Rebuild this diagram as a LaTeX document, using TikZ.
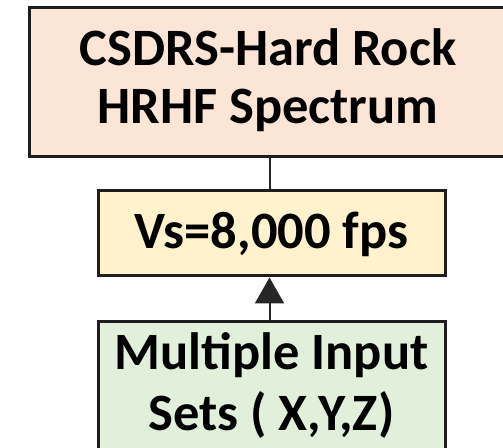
\documentclass[tikz,border=0pt]{standalone}
\usepackage{fontspec}
\setmainfont{Carlito}
\usetikzlibrary{arrows.meta}
\definecolor{peach}{HTML}{FBE5D6}
\definecolor{cream}{HTML}{FFF2CC}
\definecolor{mint}{HTML}{E2EFDA}
\definecolor{edge}{HTML}{1E1E1E}
\definecolor{wire}{HTML}{262626}
\tikzset{
  box/.style={draw=edge, line width=3pt, rectangle, inner sep=0pt},
  wirestyle/.style={draw=wire, line width=2pt},
  txt/.style={font=\fontsize{52.5}{60}\selectfont\bfseries, inner sep=0pt, anchor=base}
}
\begin{document}
\begin{tikzpicture}[x=1pt,y=1pt]
\useasboundingbox (0,0) rectangle (503,447);
\node[box, fill=peach, minimum width=479pt, minimum height=149pt] (top) at (268.5,364.5) {};
\node[box, fill=cream, minimum width=347pt, minimum height=85pt] (mid) at (271.5,213.5) {};
\node[box, fill=mint, minimum width=347pt, minimum height=133pt] (bot) at (271.5,58.5) {};
\node[txt] (t1) at (268,381) {CSDRS-Hard Rock};
\node[txt] (t2) at (268,323) {HRHF Spectrum};
\node[txt] (m1) at (271.5,198) {Vs=8,000 fps};
\node[txt] (b1) at (271.5,77) {Multiple Input};
\node[txt] (b2) at (271.5,17) {Sets ( X,Y,Z)};
\draw[wirestyle] (top.south -| 269.5,0) -- (mid.north -| 269.5,0);
\draw[wirestyle, -{Triangle[length=26pt,width=29pt]}, fill=black] (bot.north -| 269.5,0) -- (mid.south -| 269.5,0);
\end{tikzpicture}
\end{document}
